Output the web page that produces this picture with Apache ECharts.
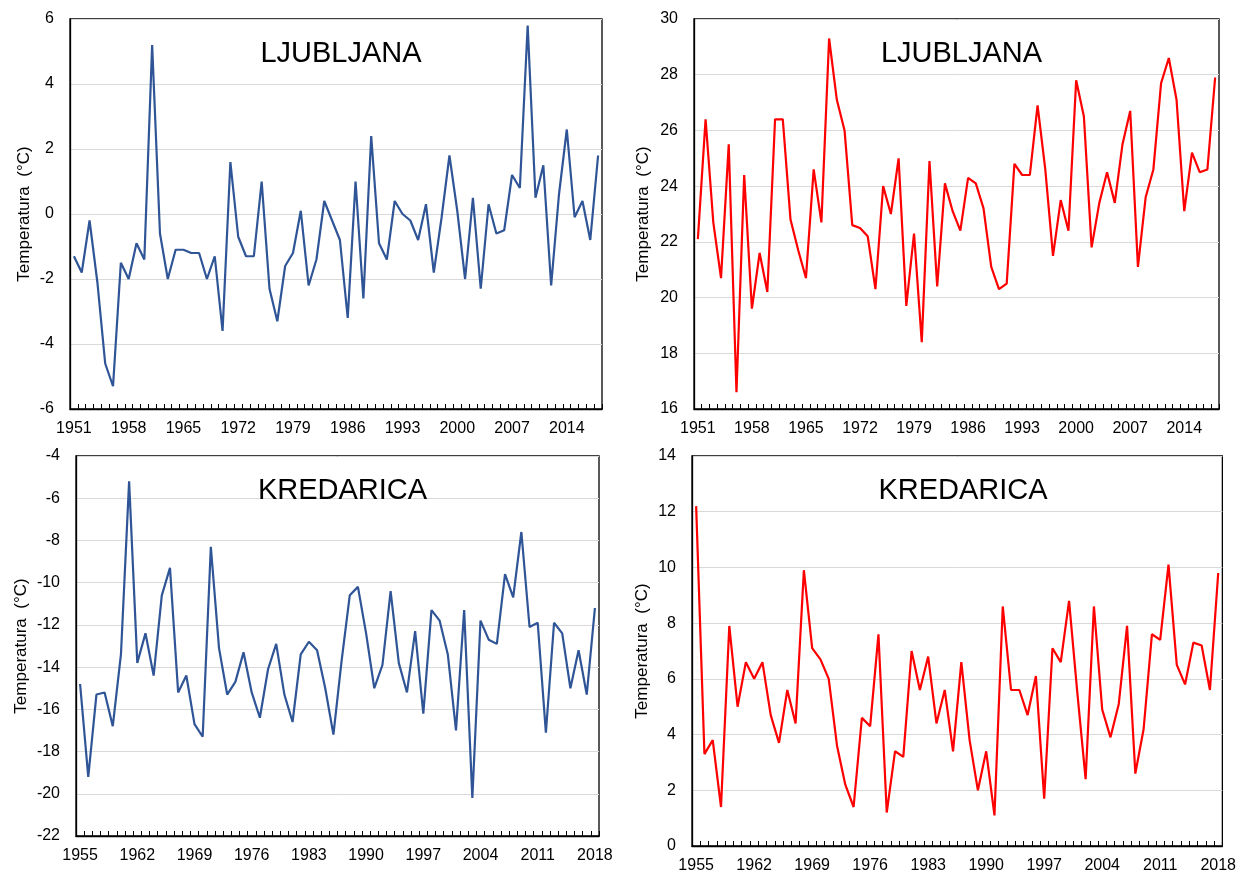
<!DOCTYPE html>
<html>
<head>
<meta charset="utf-8">
<script src="https://cdn.jsdelivr.net/npm/echarts@6/dist/echarts.min.js"></script>
<style>
html,body{margin:0;padding:0;background:#fff;}
#c{width:1239px;height:874px;}
</style>
</head>
<body>
<div id="c"></div>
<script>
// ---- data ----
const startLj = 1951, endLj = 2018;
const startKr = 1955, endKr = 2018;
const yearsLj = Array.from({length: endLj - startLj + 1}, (_, i) => String(startLj + i));
const yearsKr = Array.from({length: endKr - startKr + 1}, (_, i) => String(startKr + i));

const ljWinter = [-1.3,-1.8,-0.2,-2.1,-4.6,-5.3,-1.5,-2.0,-0.9,-1.4,
  5.2,-0.6,-2.0,-1.1,-1.1,-1.2,-1.2,-2.0,-1.3,-3.6,
  1.6,-0.7,-1.3,-1.3,1.0,-2.3,-3.3,-1.6,-1.2,0.1,
  -2.2,-1.4,0.4,-0.2,-0.8,-3.2,1.0,-2.6,2.4,-0.9,
  -1.4,0.4,0.0,-0.2,-0.8,0.3,-1.8,-0.1,1.8,0.1,
  -2.0,0.5,-2.3,0.3,-0.6,-0.5,1.2,0.8,5.8,0.5,
  1.5,-2.2,0.6,2.6,-0.1,0.4,-0.8,1.8];

const ljSummer = [22.1,26.4,22.7,20.7,25.5,16.6,24.4,19.6,21.6,20.2,
  26.4,26.4,22.8,21.7,20.7,24.6,22.7,29.3,27.1,26.0,
  22.6,22.5,22.2,20.3,24.0,23.0,25.0,19.7,22.3,18.4,
  24.9,20.4,24.1,23.1,22.4,24.3,24.1,23.2,21.1,20.3,
  20.5,24.8,24.4,24.4,26.9,24.6,21.5,23.5,22.4,27.8,
  26.5,21.8,23.4,24.5,23.4,25.5,26.7,21.1,23.6,24.6,
  27.7,28.6,27.1,23.1,25.2,24.5,24.6,27.9];

const krWinter = [-14.8,-19.2,-15.3,-15.2,-16.8,-13.4,-5.2,-13.8,-12.4,-14.4,
  -10.6,-9.3,-15.2,-14.4,-16.7,-17.3,-8.3,-13.1,-15.3,-14.7,
  -13.3,-15.2,-16.4,-14.1,-12.9,-15.3,-16.6,-13.4,-12.8,-13.2,
  -15.0,-17.2,-13.7,-10.6,-10.2,-12.4,-15.0,-13.9,-10.4,-13.8,
  -15.2,-12.3,-16.2,-11.3,-11.8,-13.4,-17.0,-11.3,-20.2,-11.8,
  -12.7,-12.9,-9.6,-10.7,-7.6,-12.1,-11.9,-17.1,-11.9,-12.4,
  -15.0,-13.2,-15.3,-11.2];

const krSummer = [12.2,3.3,3.8,1.4,7.9,5.0,6.6,6.0,6.6,4.7,
  3.7,5.6,4.4,9.9,7.1,6.7,6.0,3.6,2.2,1.4,
  4.6,4.3,7.6,1.2,3.4,3.2,7.0,5.6,6.8,4.4,
  5.6,3.4,6.6,3.8,2.0,3.4,1.1,8.6,5.6,5.6,
  4.7,6.1,1.7,7.1,6.6,8.8,5.5,2.4,8.6,4.9,
  3.9,5.1,7.9,2.6,4.2,7.6,7.4,10.1,6.5,5.8,
  7.3,7.2,5.6,9.8];

const titles = ['LJUBLJANA','LJUBLJANA','KREDARICA','KREDARICA'];
const yName = 'Temperatura  (°C)';

// ---- layout ----
const FONT = '"Liberation Sans", Arial, Helvetica, sans-serif';
const grids = [
  {left: 70,  top: 19,  width: 532, height: 390},
  {left: 694, top: 19,  width: 525, height: 390},
  {left: 76,  top: 456, width: 523, height: 380},
  {left: 692, top: 456, width: 532, height: 390}
];
const yRanges = [[-6,6],[16,30],[-22,-4],[0,14]];
const nameGaps = [37, 42, 46, 41];
const cats = [yearsLj, yearsLj, yearsKr, yearsKr];
const seriesData = [ljWinter, ljSummer, krWinter, krSummer];
const colors = ['#2F5597','#FF0000','#2F5597','#FF0000'];

const option = {
  backgroundColor: '#fff',
  animation: false,
  textStyle: {fontFamily: FONT},
  title: grids.map((g, i) => ({
    text: titles[i],
    left: g.left + g.width / 2,
    top: g.top + 15,
    textAlign: 'center',
    textStyle: {fontFamily: FONT, fontSize: 29, fontWeight: 'normal', color: '#000'}
  })),
  grid: grids.map(g => Object.assign({show: true, borderColor: '#000', borderWidth: 1.3, backgroundColor: 'transparent'}, g)),
  xAxis: grids.map((g, i) => ({
    type: 'category',
    gridIndex: i,
    data: cats[i],
    boundaryGap: true,
    axisLine: {show: true, onZero: false, lineStyle: {color: '#000', width: 1.3}},
    axisTick: {show: true, inside: true, length: 5, interval: 0, lineStyle: {color: '#000', width: 1}},
    axisLabel: {interval: 6, margin: 12, fontSize: 16, color: '#000', fontFamily: FONT},
    splitLine: {show: false}
  })),
  yAxis: grids.map((g, i) => ({
    type: 'value',
    gridIndex: i,
    min: yRanges[i][0],
    max: yRanges[i][1],
    interval: 2,
    name: yName,
    nameLocation: 'middle',
    nameRotate: 90,
    nameGap: nameGaps[i],
    nameTextStyle: {fontSize: 17, color: '#000', fontFamily: FONT},
    axisLine: {show: true, onZero: false, lineStyle: {color: '#000', width: 1.3}},
    axisTick: {show: false},
    axisLabel: {margin: 16, fontSize: 16, color: '#000', fontFamily: FONT},
    splitLine: {show: true, lineStyle: {color: '#D9D9D9', width: 1}}
  })),
  series: seriesData.map((d, i) => ({
    type: 'line',
    xAxisIndex: i,
    yAxisIndex: i,
    data: d,
    symbol: 'none',
    lineStyle: {color: colors[i], width: 2.2},
    itemStyle: {color: colors[i]}
  }))
};

const chart = echarts.init(document.getElementById('c'), null, {renderer: 'canvas'});
chart.setOption(option);
</script>
</body>
</html>
